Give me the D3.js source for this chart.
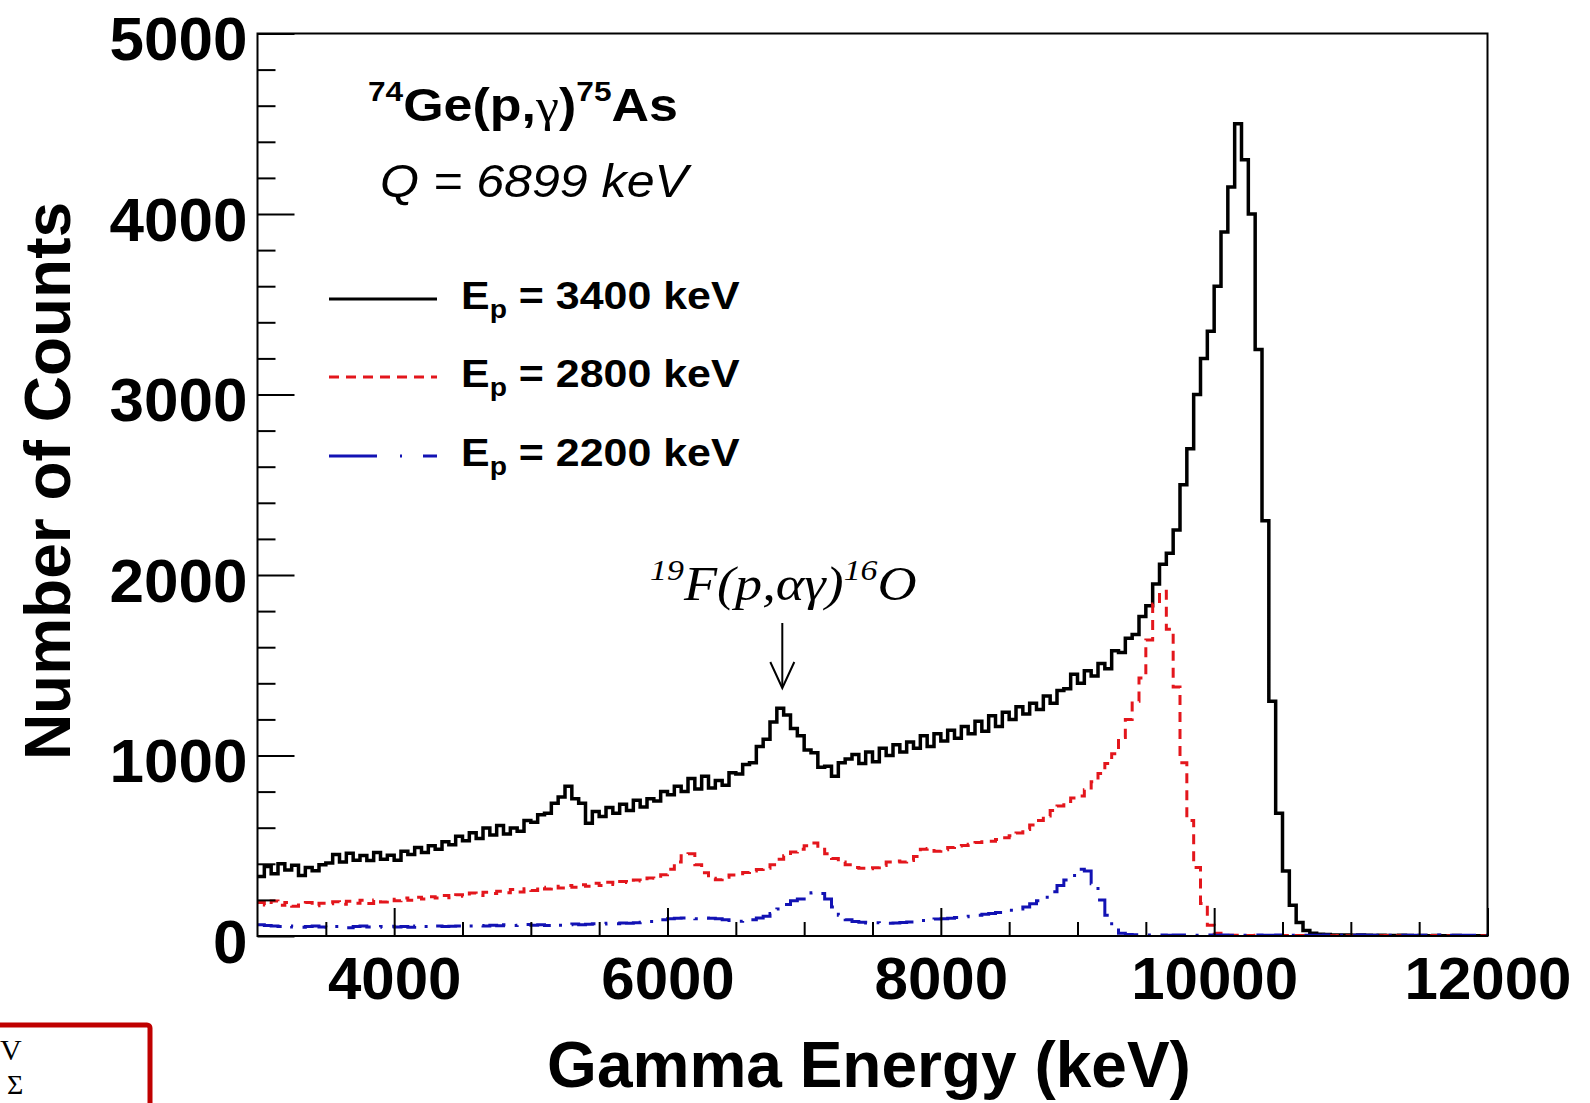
<!DOCTYPE html>
<html lang="en">
<head>
    <meta charset="UTF-8">
    <title>74Ge(p,gamma)75As spectra</title>
    <script src="https://d3js.org/d3.v7.min.js"></script>
    <style>
        body { margin: 0; background: #fff; }
    </style>
</head>
<body>
    <script>
        const width = 1590;
        const height = 1103;

        // histogram bins: 50 keV wide, 3000 - 12000 keV
        const binEdges = d3.range(3000, 12001, 50);

        // Ep = 3400 keV
        const counts3400 = [
            330, 385, 345, 400, 365, 392, 335, 380, 362, 395,
            405, 452, 410, 458, 420, 446, 418, 462, 425, 448,
            420, 470, 452, 490, 462, 500, 480, 522, 505, 552,
            528, 572, 540, 598, 560, 612, 565, 598, 580, 640,
            630, 672, 680, 735, 770, 830, 760, 735, 625, 690,
            662, 712, 680, 730, 695, 752, 715, 760, 748, 800,
            782, 830, 800, 872, 815, 885, 820, 862, 835, 905,
            898, 950, 960, 1050, 1090, 1185, 1262, 1225, 1150, 1110,
            1030, 1015, 935, 940, 885, 960, 980, 1005, 955, 1020,
            965, 1040, 1000, 1060, 1020, 1075, 1040, 1110, 1050, 1120,
            1080, 1140, 1095, 1160, 1120, 1190, 1135, 1220, 1160, 1240,
            1200, 1270, 1230, 1290, 1255, 1330, 1290, 1360, 1370, 1450,
            1400, 1470, 1440, 1510, 1480, 1580, 1570, 1650, 1670, 1770,
            1830, 1950, 2060, 2120, 2250, 2500, 2700, 3000, 3200, 3350,
            3600, 3900, 4150, 4500, 4300, 4000, 3250, 2300, 1300, 680,
            360, 170, 75, 30, 15, 10, 8, 6, 5, 5,
            4, 5, 4, 3, 4, 3, 3, 4, 3, 2,
            3, 2, 3, 2, 2, 3, 2, 2, 2, 2
        ];

        // Ep = 2800 keV
        const counts2800 = [
            185, 172, 194, 170, 186, 165, 180, 186, 168, 182,
            178, 190, 176, 192, 182, 198, 180, 200, 188, 204,
            195, 210, 198, 215, 205, 218, 210, 225, 212, 228,
            220, 238, 224, 242, 236, 248, 240, 258, 244, 262,
            252, 270, 260, 276, 266, 280, 270, 284, 276, 292,
            280, 298, 286, 302, 296, 310, 305, 322, 320, 340,
            370, 410, 445, 455, 395, 350, 320, 312, 325, 338,
            345, 352, 360, 368, 376, 395, 425, 445, 465, 480,
            500, 515, 480, 455, 430, 410, 395, 380, 376, 372,
            378, 390, 410, 415, 410, 418, 440, 480, 485, 470,
            478, 490, 498, 502, 508, 518, 522, 525, 535, 545,
            555, 570, 590, 615, 640, 665, 695, 720, 745, 765,
            775, 810, 855, 900, 955, 1010, 1100, 1200, 1300, 1430,
            1640, 1840, 1910, 1700, 1380, 960, 640, 380, 180, 60,
            15, 6, 4, 4, 3, 3, 4, 3, 2, 3,
            3, 2, 3, 2, 2, 3, 2, 2, 3, 2,
            2, 3, 2, 2, 2, 3, 2, 2, 2, 2,
            2, 2, 3, 2, 2, 2, 2, 2, 2, 2
        ];

        // Ep = 2200 keV
        const counts2200 = [
            62, 58, 55, 52, 56, 50, 48, 52, 55, 50,
            48, 52, 50, 46, 52, 55, 50, 48, 52, 54,
            50, 52, 48, 55, 52, 50, 56, 52, 54, 55,
            52, 56, 58, 55, 60, 57, 62, 58, 60, 64,
            60, 62, 58, 64, 60, 62, 66, 63, 65, 68,
            66, 70, 68, 72, 70, 74, 76, 80, 85, 90,
            95, 98, 100, 98, 96, 100, 98, 95, 90, 86,
            82, 85, 90, 100, 110, 125, 150, 175, 195, 205,
            215, 240, 235, 205, 160, 115, 90, 80, 76, 72,
            74, 72, 70, 72, 75, 78, 82, 86, 90, 94,
            96, 98, 102, 106, 110, 115, 120, 125, 130, 136,
            142, 150, 160, 178, 195, 215, 245, 280, 310, 335,
            370, 360, 290, 200, 115, 45, 15, 8, 7, 6,
            5, 6, 5, 4, 5, 6, 5, 4, 5, 5,
            4, 5, 4, 5, 4, 4, 5, 4, 4, 5,
            4, 4, 5, 4, 4, 4, 5, 4, 4, 4,
            4, 5, 4, 4, 4, 4, 5, 4, 4, 4,
            4, 4, 5, 4, 4, 4, 4, 4, 4, 4
        ];

        const seriesNames = ["3400", "2800", "2200"];
        const seriesColors = ["#000000", "#e3161c", "#1212b4"];
        const seriesWidths = [3.5, 3, 3];
        const seriesDashes = [null, "10,7", "26,10,3,10"];
        const legendDashes = [null, "10,7", "48,23,2,21"];

        const xTicksMajor = [4000, 6000, 8000, 10000, 12000];
        const xTicksMinor = d3.range(3500, 12000, 500);
        const yTicksMajor = [0, 1000, 2000, 3000, 4000, 5000];
        const yTicksMinor = d3.range(200, 5000, 200);

        const sans = "'Liberation Sans', Arial, Helvetica, sans-serif";
        const serif = "'Liberation Serif', 'Times New Roman', serif";

        const plotLeft = 257.5, plotRight = 1487.5, plotTop = 33.5, plotBottom = 936;

        const x = d3.scaleLinear().domain([3000, 12000]).range([plotLeft, plotRight]);
        const y = d3.scaleLinear().domain([0, 5000]).range([plotBottom, plotTop]);

        const svg = d3.select("body").append("svg")
            .attr("width", width)
            .attr("height", height)
            .attr("font-family", sans);

        svg.append("defs").append("clipPath").attr("id", "plotClip")
            .append("rect")
            .attr("x", plotLeft).attr("y", plotTop)
            .attr("width", plotRight - plotLeft).attr("height", plotBottom - plotTop);

        // histograms
        const hist = d3.line()
            .x(d => x(d[0]))
            .y(d => y(d[1]))
            .curve(d3.curveStepAfter);

        const allCounts = [counts3400, counts2800, counts2200];
        const plot = svg.append("g").attr("clip-path", "url(#plotClip)");
        allCounts.forEach((counts, k) => {
            const pts = counts.map((c, i) => [binEdges[i], c]);
            pts.push([binEdges[counts.length], counts[counts.length - 1]]);
            plot.append("path")
                .datum(pts)
                .attr("fill", "none")
                .attr("stroke", seriesColors[k])
                .attr("stroke-width", seriesWidths[k])
                .attr("stroke-dasharray", seriesDashes[k])
                .attr("d", hist);
        });

        // axes
        const xMajor = svg.append("g")
            .attr("transform", `translate(0,${plotBottom})`)
            .call(d3.axisBottom(x).tickValues(xTicksMajor).tickSize(-28).tickPadding(20).tickFormat(d3.format("d")));
        svg.append("g")
            .attr("transform", `translate(0,${plotBottom})`)
            .call(d3.axisBottom(x).tickValues(xTicksMinor.filter(v => v % 2000 !== 0)).tickSize(-14).tickFormat(""));

        const yMajor = svg.append("g")
            .attr("transform", `translate(${plotLeft},0)`)
            .call(d3.axisLeft(y).tickValues(yTicksMajor).tickSize(-37).tickPadding(10).tickFormat(d3.format("d")));
        svg.append("g")
            .attr("transform", `translate(${plotLeft},0)`)
            .call(d3.axisLeft(y).tickValues(yTicksMinor.filter(v => v % 1000 !== 0)).tickSize(-18).tickFormat(""));

        svg.selectAll(".domain").remove();
        svg.selectAll(".tick line").attr("stroke", "#000").attr("stroke-width", 2);

        xMajor.selectAll("text")
            .attr("font-size", 60)
            .attr("font-weight", "bold")
            .attr("font-family", sans)
            .attr("fill", "#000");
        yMajor.selectAll("text")
            .attr("font-size", 62)
            .attr("font-weight", "bold")
            .attr("font-family", sans)
            .attr("dy", "0.42em")
            .attr("fill", "#000");

        // frame
        svg.append("rect")
            .attr("x", plotLeft).attr("y", plotTop)
            .attr("width", plotRight - plotLeft).attr("height", plotBottom - plotTop)
            .attr("fill", "none")
            .attr("stroke", "#000")
            .attr("stroke-width", 2);

        // axis titles
        svg.append("text")
            .attr("x", 869).attr("y", 1087)
            .attr("text-anchor", "middle")
            .attr("font-size", 64)
            .attr("font-weight", "bold")
            .text("Gamma Energy (keV)");

        svg.append("text")
            .attr("transform", "translate(70,481) rotate(-90)")
            .attr("text-anchor", "middle")
            .attr("font-size", 64)
            .attr("font-weight", "bold")
            .text("Number of Counts");

        // reaction title
        const title = svg.append("text")
            .attr("transform", "translate(368,121) scale(1.13,1)")
            .attr("font-weight", "bold")
            .attr("font-size", 46);
        title.append("tspan").attr("font-size", 28).attr("dy", -20).text("74");
        title.append("tspan").attr("dy", 20).text("Ge(p,");
        title.append("tspan").attr("font-family", serif).attr("font-weight", "normal").text("γ");
        title.append("tspan").text(")");
        title.append("tspan").attr("font-size", 28).attr("dy", -20).text("75");
        title.append("tspan").attr("dy", 20).text("As");

        svg.append("text")
            .attr("transform", "translate(380,197) scale(1.09,1)")
            .attr("font-size", 46)
            .attr("font-style", "italic")
            .text("Q = 6899 keV");

        // legend
        const legendY = [299, 377, 456];
        seriesNames.forEach((name, k) => {
            svg.append("line")
                .attr("x1", 329).attr("x2", 437)
                .attr("y1", legendY[k]).attr("y2", legendY[k])
                .attr("stroke", seriesColors[k])
                .attr("stroke-width", 3)
                .attr("stroke-dasharray", legendDashes[k]);
            const t = svg.append("text")
                .attr("transform", `translate(461,${legendY[k] + 10}) scale(1.13,1)`)
                .attr("font-size", 38)
                .attr("font-weight", "bold");
            t.append("tspan").text("E");
            t.append("tspan").attr("font-size", 25).attr("dy", 9).text("p");
            t.append("tspan").attr("dy", -9).text(` = ${name} keV`);
        });

        // 19F(p,ag)16O annotation with arrow
        const ann = svg.append("text")
            .attr("transform", "translate(650,600) scale(1.13,1)")
            .attr("font-family", serif)
            .attr("font-style", "italic")
            .attr("font-size", 48);
        ann.append("tspan").attr("font-size", 30).attr("dy", -20).text("19");
        ann.append("tspan").attr("dy", 20).text("F(p,αγ)");
        ann.append("tspan").attr("font-size", 30).attr("dy", -20).text("16");
        ann.append("tspan").attr("dy", 20).text("O");

        const ax = x(6840);
        svg.append("line")
            .attr("x1", ax).attr("x2", ax)
            .attr("y1", 623).attr("y2", 687)
            .attr("stroke", "#000").attr("stroke-width", 2);
        svg.append("path")
            .attr("d", `M${ax - 12},662 L${ax},688 L${ax + 12},662`)
            .attr("fill", "none")
            .attr("stroke", "#000").attr("stroke-width", 2);

        // cropped box from neighbouring figure (bottom left)
        svg.append("rect")
            .attr("x", -20).attr("y", 1025)
            .attr("width", 170).attr("height", 110)
            .attr("rx", 3)
            .attr("fill", "none")
            .attr("stroke", "#c00000")
            .attr("stroke-width", 5);
        svg.append("text")
            .attr("x", 0).attr("y", 1060)
            .attr("font-family", serif)
            .attr("font-size", 30)
            .text("V");
        svg.append("text")
            .attr("x", 7).attr("y", 1094)
            .attr("font-family", serif)
            .attr("font-size", 28)
            .text("Σ");
    </script>
</body>
</html>
